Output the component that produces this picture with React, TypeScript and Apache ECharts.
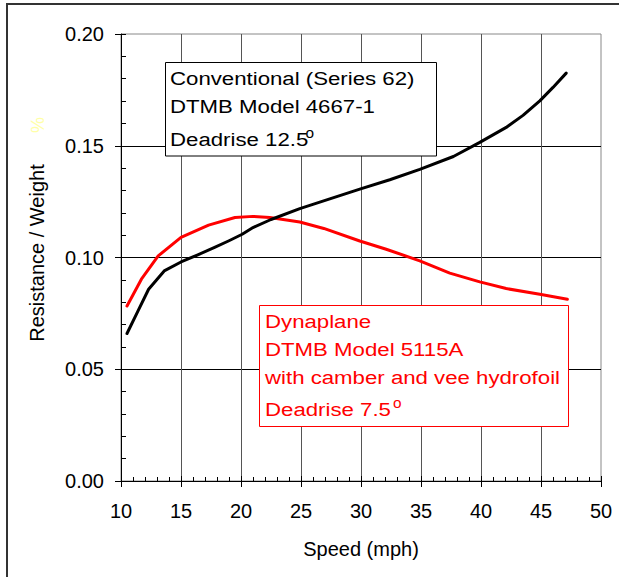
import React, { useEffect, useRef } from "react";
import * as echarts from "echarts";

const xTicks = { min: 10, max: 50, interval: 5 };
const yTicks = { min: 0, max: 0.2, interval: 0.05 };

const speedConventional = [10.5, 11.4, 12.3, 13.6, 15, 16.4, 17.8, 19, 20.1, 21, 22.5, 24.9, 27.4, 29.9, 32.4, 34.9, 37.7, 39.9, 42.1, 43.5, 44.9, 46, 47.1];
const rwConventional = [0.066, 0.0759, 0.0858, 0.094, 0.098, 0.1012, 0.1045, 0.1075, 0.1104, 0.1134, 0.117, 0.1219, 0.1262, 0.1306, 0.1348, 0.1394, 0.1452, 0.1515, 0.1582, 0.1636, 0.1701, 0.1761, 0.1825];

const speedDynaplane = [10.5, 11.7, 13.1, 15, 17.3, 19.5, 21, 22.4, 24.9, 26.9, 29.9, 32.1, 34.9, 37.4, 39.9, 42.1, 44.9, 47.2];
const rwDynaplane = [0.0783, 0.0903, 0.1007, 0.109, 0.1145, 0.1179, 0.1184, 0.1179, 0.1159, 0.113, 0.1074, 0.1037, 0.0985, 0.093, 0.0891, 0.0861, 0.0836, 0.0813];

const conventionalText = ["Conventional (Series 62)", "DTMB Model 4667-1", "Deadrise 12.5"];
const dynaplaneText = ["Dynaplane", "DTMB Model 5115A", "with camber and vee hydrofoil", "Deadrise 7.5"];

const FONT = "'Liberation Sans', Arial, Helvetica, sans-serif";

export default function App() {
  const ref = useRef<HTMLDivElement>(null);
  useEffect(() => {
    const chart = echarts.init(ref.current!, null, { renderer: "svg" });
    const pair = (xs: number[], ys: number[]) => xs.map((x, i) => [x, ys[i]]);
    const txt = (text: string, x: number, y: number, fill: string, fontSize: number, scaleX: number) => ({
      type: "text",
      x,
      y,
      scaleX,
      z: 102,
      style: { text, fontSize, fontFamily: FONT, fill, align: "left", verticalAlign: "middle" },
    });
    const option: any = {
      animation: false,
      backgroundColor: "#fff",
      grid: { left: 121, right: 18, top: 34, bottom: 96, show: true, borderColor: "#888", borderWidth: 1 },
      xAxis: [
        {
          type: "value", ...xTicks, position: "bottom",
          axisLine: { show: true, lineStyle: { color: "#000", width: 1 } },
          axisTick: { show: true, inside: false, length: 6, lineStyle: { color: "#000" } },
          minorTick: { show: false },
          axisLabel: { margin: 20, fontSize: 20, color: "#000", fontFamily: FONT },
          splitLine: { show: true, showMinLine: false, showMaxLine: false, lineStyle: { color: "#555", width: 1 } },
        },
        {
          type: "value", ...xTicks, position: "bottom",
          axisLine: { show: false },
          axisTick: { show: true, inside: true, length: 5, lineStyle: { color: "#000" } },
          minorTick: { show: true, splitNumber: 5, length: 4, lineStyle: { color: "#000" } },
          axisLabel: { show: false },
          splitLine: { show: false },
        },
      ],
      yAxis: [
        {
          type: "value", ...yTicks, position: "left",
          axisLine: { show: true, lineStyle: { color: "#000", width: 1 } },
          axisTick: { show: true, inside: false, length: 6, lineStyle: { color: "#000" } },
          minorTick: { show: false },
          axisLabel: { margin: 17, fontSize: 20, color: "#000", fontFamily: FONT, formatter: (v: number) => v.toFixed(2) },
          splitLine: { show: true, showMinLine: false, showMaxLine: false, lineStyle: { color: "#000", width: 1 } },
        },
        {
          type: "value", ...yTicks, position: "left",
          axisLine: { show: false },
          axisTick: { show: true, inside: true, length: 5, lineStyle: { color: "#000" } },
          minorTick: { show: true, splitNumber: 5, length: 5, lineStyle: { color: "#000" } },
          axisLabel: { show: false },
          splitLine: { show: false },
        },
      ],
      series: [
        {
          name: "Conventional", type: "line", xAxisIndex: 0, yAxisIndex: 0,
          data: pair(speedConventional, rwConventional),
          showSymbol: false, symbol: "none", smooth: false,
          lineStyle: { color: "#000", width: 3, join: "round", cap: "round" }, z: 5,
        },
        {
          name: "Dynaplane", type: "line", xAxisIndex: 0, yAxisIndex: 0,
          data: pair(speedDynaplane, rwDynaplane),
          showSymbol: false, symbol: "none", smooth: false,
          lineStyle: { color: "#ff0000", width: 3, join: "round", cap: "round" }, z: 4,
        },
      ],
      graphic: [
        { type: "line", z: 100, shape: { x1: 7, y1: 4, x2: 7, y2: 577 }, style: { stroke: "#333", lineWidth: 2 } },
        { type: "line", z: 100, shape: { x1: 6, y1: 4, x2: 619, y2: 4 }, style: { stroke: "#333", lineWidth: 2 } },
        { type: "rect", z: 101, shape: { x: 165.5, y: 62.5, width: 271, height: 93.5 }, style: { fill: "#fff", stroke: "#000", lineWidth: 1 } },
        txt(conventionalText[0], 170, 78, "#000", 19, 1.17),
        txt(conventionalText[1], 170, 106.5, "#000", 19, 1.17),
        txt(conventionalText[2], 170, 139, "#000", 19, 1.17),
        txt("o", 305.5, 133.5, "#000", 14, 1.1),
        { type: "rect", z: 101, shape: { x: 259.5, y: 305.5, width: 309, height: 121 }, style: { fill: "#fff", stroke: "#ff0000", lineWidth: 1 } },
        txt(dynaplaneText[0], 265, 321, "#ff0000", 19, 1.17),
        txt(dynaplaneText[1], 265, 349.5, "#ff0000", 19, 1.17),
        txt(dynaplaneText[2], 265, 377, "#ff0000", 19, 1.17),
        txt(dynaplaneText[3], 265, 409, "#ff0000", 19, 1.17),
        txt("o", 393, 403.5, "#ff0000", 14, 1.1),
        {
          type: "text", z: 102, x: 37, y: 253, rotation: Math.PI / 2,
          style: { text: "Resistance / Weight", fontSize: 20, fontFamily: FONT, fill: "#000", align: "center", verticalAlign: "middle" },
        },
        {
          type: "text", z: 102, x: 38, y: 125, rotation: Math.PI / 2,
          style: { text: "%", fontSize: 18, fontFamily: FONT, fill: "#ffffa8", align: "center", verticalAlign: "middle" },
        },
        {
          type: "text", z: 102, x: 361, y: 549,
          style: { text: "Speed (mph)", fontSize: 20, fontFamily: FONT, fill: "#000", align: "center", verticalAlign: "middle" },
        },
      ],
    };
    chart.setOption(option);
    return () => chart.dispose();
  }, []);
  return <div ref={ref} style={{ position: "fixed", left: 0, top: 0, width: 619, height: 577 }} />;
}
